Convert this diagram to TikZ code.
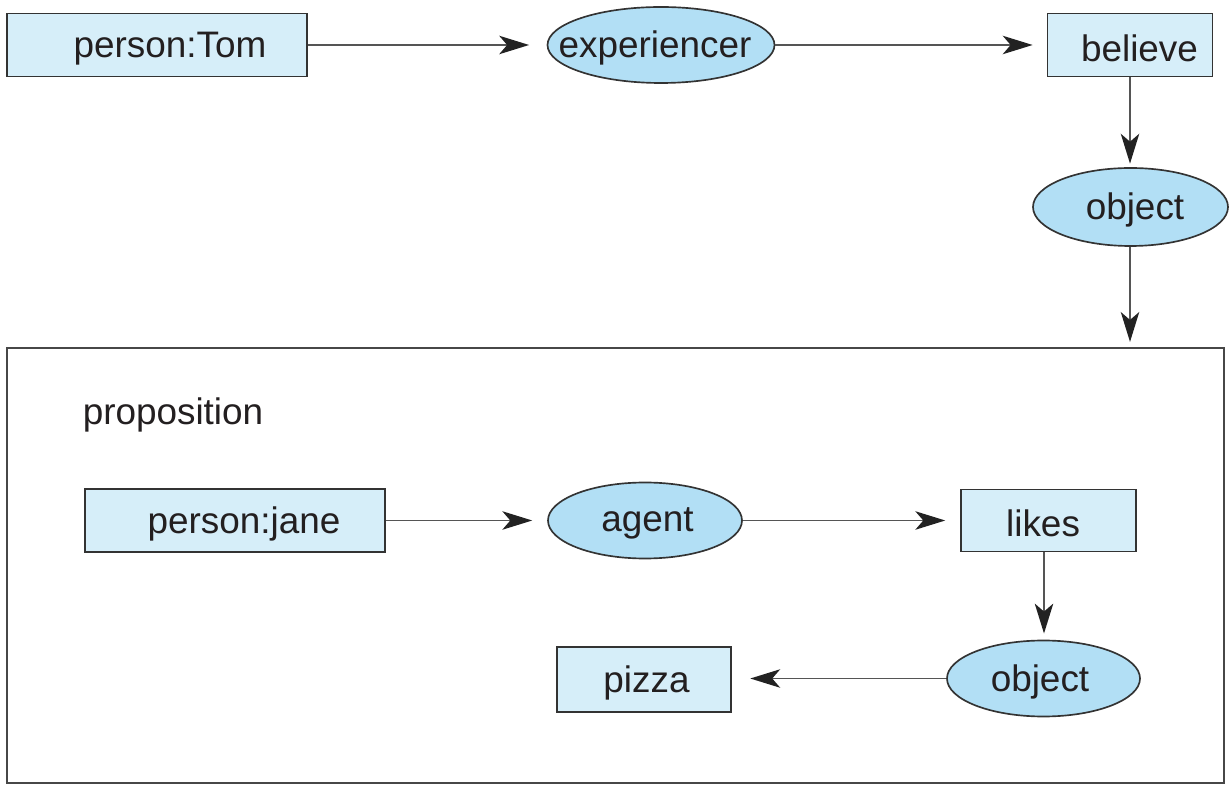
\documentclass[tikz,border=0pt]{standalone}
\usepackage{fontspec}
\setmainfont{Liberation Sans}
\usetikzlibrary{shapes.geometric,arrows.meta}
\definecolor{boxfill}{HTML}{D6EEF9}
\definecolor{ellfill}{HTML}{B2DFF5}
\definecolor{edge}{HTML}{333333}
\definecolor{linegray}{HTML}{555555}
\definecolor{tipcol}{HTML}{222222}
\definecolor{txt}{HTML}{231F20}
\newcommand{\ctext}[2]{\makebox[0pt]{\hspace*{#1}\raisebox{-1.8pt}[\height][\depth]{#2}}}
\tikzset{
  every node/.style={font=\fontsize{21pt}{25pt}\selectfont, text=txt},
  concept/.style={draw=edge, line width=0.95pt, fill=boxfill, rectangle, inner sep=0pt},
  relation/.style={draw=edge, line width=0.95pt, fill=ellfill, ellipse, inner sep=0pt},
  link/.style={draw=linegray, line width=1pt, -{Stealth[length=17pt,width=10.5pt,inset=4.5pt,color=tipcol]}},
}
\begin{document}
\begin{tikzpicture}[x=0.02cm,y=-0.02cm]
\useasboundingbox (0,0) rectangle (1230,786);
% outer proposition box
\node[draw=edge!90!white, line width=0.95pt, rectangle, minimum width=1217*0.02cm, minimum height=435*0.02cm, inner sep=0pt] (prop) at (615.5,565.5) {};
\node (proplabel) at (173,415) {proposition};
% top row
\node[concept, minimum width=300*0.02cm, minimum height=63*0.02cm] (tom) at (157,45) {\ctext{14.8pt}{person:Tom}};
\node[relation, minimum width=227*0.02cm, minimum height=76*0.02cm] (exp) at (661,45) {\ctext{-6.8pt}{experiencer}};
\node[concept, minimum width=165*0.02cm, minimum height=63*0.02cm] (bel) at (1130,45) {\ctext{10.8pt}{believe}};
\node[relation, minimum width=195*0.02cm, minimum height=78*0.02cm] (obj1) at (1130.5,207) {\ctext{5.1pt}{object}};
% inner
\node[concept, minimum width=300*0.02cm, minimum height=63*0.02cm] (jane) at (235,520.5) {\ctext{10.2pt}{person:jane}};
\node[relation, minimum width=194*0.02cm, minimum height=76*0.02cm] (agent) at (645,520.5) {\ctext{2.8pt}{agent}};
\node[concept, minimum width=175*0.02cm, minimum height=62*0.02cm] (likes) at (1048.5,520.5) {\ctext{-6.2pt}{likes}};
\node[relation, minimum width=193*0.02cm, minimum height=76*0.02cm] (obj2) at (1043.5,678.5) {\ctext{-4pt}{object}};
\node[concept, minimum width=174*0.02cm, minimum height=65*0.02cm] (pizza) at (644,679.5) {\ctext{2.8pt}{pizza}};
% connectors
\draw[link, shorten >=10pt] (tom.east) -- (exp.west);
\draw[link, shorten >=8pt] (exp.east) -- (bel.west);
\draw[link, shorten >=2pt] (bel.south) -- (bel.south |- obj1.north);
\coordinate (proptop) at (bel.south |- prop.north);
\draw[link, shorten >=3pt] (bel.south |- obj1.south) -- (proptop);
\draw[link, shorten >=8.5pt] (jane.east) -- (agent.west);
\draw[link, shorten >=8.5pt] (agent.east) -- (likes.west);
\draw[link, shorten >=3.5pt] ([xshift=-4.5*0.02cm]likes.south) -- ([xshift=-4.5*0.02cm]likes.south |- obj2.north);
\draw[link, shorten >=10.5pt] (obj2.west) -- (pizza.east |- obj2.west);
\end{tikzpicture}
\end{document}
